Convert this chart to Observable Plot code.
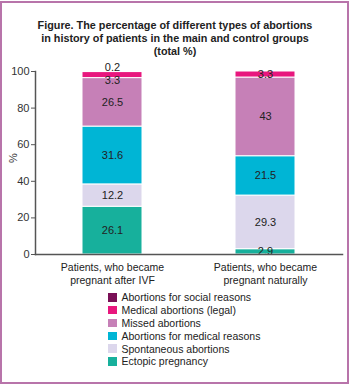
<!DOCTYPE html>
<html><head><meta charset="utf-8">
<script src="https://cdn.jsdelivr.net/npm/d3@7"></script>
<script src="https://cdn.jsdelivr.net/npm/@observablehq/plot@0.6"></script>
<style>
body{margin:0;background:#fff;font-family:"Liberation Sans",Arial,sans-serif;}
#page{position:relative;width:350px;height:385px;overflow:hidden;background:#fff;}
#frame{position:absolute;left:0;top:1px;width:349px;height:383px;box-sizing:border-box;border:2.5px solid #b874aa;}
#title{position:absolute;top:18.5px;left:0;width:350px;text-align:center;font-weight:bold;font-size:10.8px;line-height:13px;color:#222;}
#chart{position:absolute;left:0;top:58px;}
#legend{position:absolute;left:108px;top:291px;font-size:10.5px;color:#222;}
.row{height:12.8px;display:flex;align-items:center;white-space:nowrap;}
.sw{width:8.5px;height:8.5px;margin-right:5px;flex:none;}
</style>
</head><body>
<div id="page">
<div id="frame"></div>
<div id="title">Figure. The percentage of different types of abortions<br>in history of patients in the main and control groups<br>(total %)</div>
<div id="chart"></div>
<div id="legend"></div>
</div>
<script>
const groups = ["Patients, who became\npregnant after IVF", "Patients, who became\npregnant naturally"];
const types = ["Ectopic pregnancy", "Spontaneous abortions", "Abortions for medical reasons", "Missed abortions", "Medical abortions (legal)", "Abortions for social reasons"];
const ivfValues = [26.1, 12.2, 31.6, 26.5, 3.3, 0.2];
const naturalValues = [2.9, 29.3, 21.5, 43, 3.3, 0];
const colors = ["#17b09c", "#dcd7ec", "#00b5d5", "#c680b7", "#e8177e", "#7a1057"];
const yTicks = [0, 20, 40, 60, 80, 100];

const seriesByGroup = [ivfValues, naturalValues];
const rows = [];
groups.forEach((g, gi) => {
  let acc = 0;
  const vals = seriesByGroup[gi];
  vals.forEach((v, ti) => {
    const next = vals[ti + 1];
    rows.push({group: g, type: types[ti], value: v, y1: acc, y2: acc + v, mid: acc + v / 2,
               tiny: v > 0 && v < 1, belowTiny: next !== undefined && next > 0 && next < 1});
    acc += v;
  });
});
const shown = rows.filter(d => d.value > 0);

const chart = Plot.plot({
  width: 350, height: 232,
  marginTop: 13, marginBottom: 36, marginLeft: 35, marginRight: 8,
  style: {fontFamily: '"Liberation Sans", Arial, sans-serif', fontSize: "11px", color: "#222", background: "transparent"},
  x: {domain: groups, paddingInner: 0.61, paddingOuter: 0.305, label: null},
  y: {domain: [0, 100], label: null},
  color: {domain: types, range: colors},
  marks: [
    Plot.barY(shown, {x: "group", y1: "y1", y2: "y2", fill: "type", stroke: "white", strokeWidth: 1}),
    Plot.text(shown.filter(d => !d.tiny && !d.belowTiny), {x: "group", y: "mid", text: d => String(d.value), fill: "#222", fontSize: 11}),
    Plot.text(shown.filter(d => d.tiny), {x: "group", y: "mid", text: d => String(d.value), fill: "#222", fontSize: 11, dy: -4}),
    Plot.text(shown.filter(d => d.belowTiny), {x: "group", y: "mid", text: d => String(d.value), fill: "#222", fontSize: 11, dy: 5}),
    Plot.axisY({ticks: yTicks, tickSize: 4, tickPadding: 2, label: null, stroke: "#555", fill: "#333", fontSize: 11}),
    Plot.text(["%"], {frameAnchor: "left", text: d => d, rotate: -90, dx: -22, fill: "#333", fontSize: 11}),
    Plot.axisX({tickSize: 0, tickPadding: 8, label: null, fill: "#222", fontSize: 10.5, lineHeight: 1.17}),
    Plot.frame({anchor: "left", stroke: "#555", strokeWidth: 1.5}),
    Plot.frame({anchor: "bottom", stroke: "#555", strokeWidth: 1.5})
  ]
});
document.getElementById("chart").appendChild(chart);

const legend = document.getElementById("legend");
for (let i = types.length - 1; i >= 0; i--) {
  const row = document.createElement("div");
  row.className = "row";
  const sw = document.createElement("span");
  sw.className = "sw";
  sw.style.background = colors[i];
  const label = document.createElement("span");
  label.textContent = types[i];
  row.appendChild(sw);
  row.appendChild(label);
  legend.appendChild(row);
}
</script>
</body></html>
